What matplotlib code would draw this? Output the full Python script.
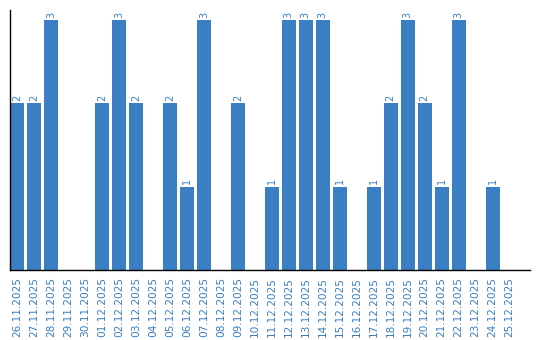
import matplotlib
matplotlib.use("Agg")
import matplotlib.pyplot as plt

dates = ["26.11.2025", "27.11.2025", "28.11.2025", "29.11.2025", "30.11.2025",
         "01.12.2025", "02.12.2025", "03.12.2025", "04.12.2025", "05.12.2025",
         "06.12.2025", "07.12.2025", "08.12.2025", "09.12.2025", "10.12.2025",
         "11.12.2025", "12.12.2025", "13.12.2025", "14.12.2025", "15.12.2025",
         "16.12.2025", "17.12.2025", "18.12.2025", "19.12.2025", "20.12.2025",
         "21.12.2025", "22.12.2025", "23.12.2025", "24.12.2025", "25.12.2025"]
counts = [2, 2, 3, 0, 0, 2, 3, 2, 0, 2, 1, 3, 0, 2, 0,
          1, 3, 3, 3, 1, 0, 1, 2, 3, 2, 1, 3, 0, 1, 0]

blue = "#3a7ec3"

fig = plt.figure(figsize=(5.4, 3.4), dpi=100)
ax = fig.add_axes([10/540, 70/340, 520/540, 260/340])

x = range(len(dates))
bars = ax.bar(x, counts, width=0.82, color=blue)
for xi, v in zip(x, counts):
    if v > 0:
        ax.text(xi, v + 0.03, str(v), rotation=90, ha="center", va="bottom",
                color=blue, fontsize=7)

ax.set_xlim(-0.41, 30.2)
ax.set_ylim(0, 3.12)
ax.set_xticks(list(x))
ax.set_xticklabels(dates, rotation=90, color=blue, fontsize=7.6)
ax.tick_params(axis="x", length=0, pad=5)
ax.set_yticks([])
for s in ["top", "right"]:
    ax.spines[s].set_visible(False)
ax.spines["left"].set_linewidth(1)
ax.spines["bottom"].set_linewidth(1)

fig.savefig("out.png", dpi=100)
